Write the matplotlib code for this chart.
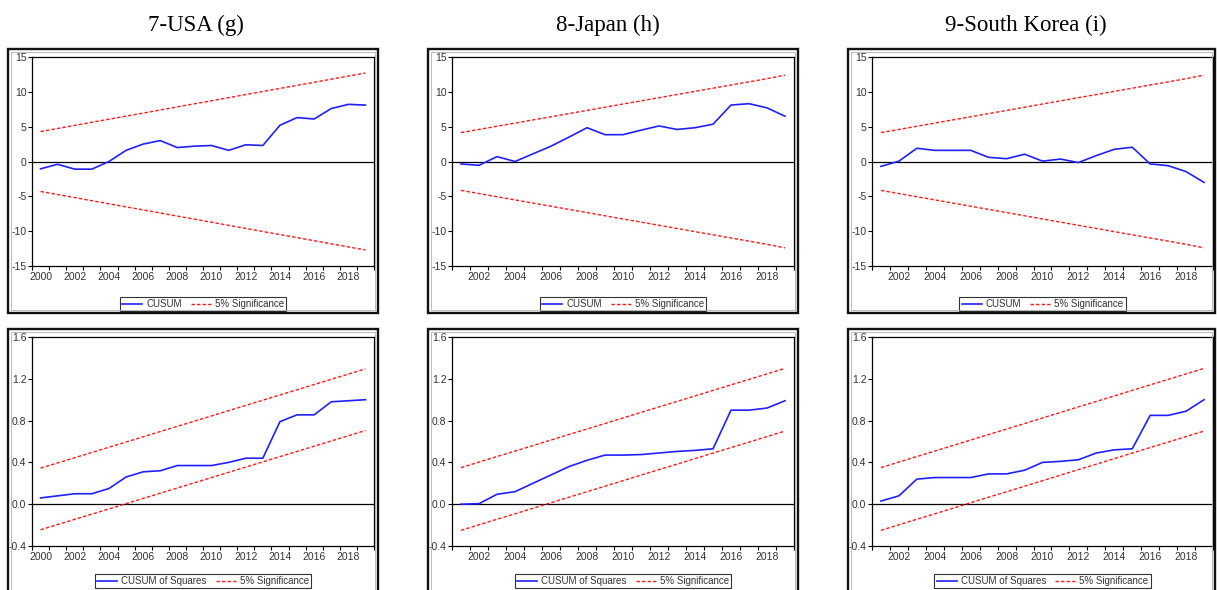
import matplotlib.pyplot as plt
from matplotlib.patches import Rectangle
from matplotlib.lines import Line2D

W, H = 1217, 590

# ---- data ----
years_usa = list(range(2000, 2020))
years_jk = list(range(2001, 2020))

cusum_usa = [-1.05, -0.4, -1.1, -1.1, 0.0, 1.6, 2.5, 3.0, 2.0, 2.2,
             2.3, 1.6, 2.4, 2.3, 5.2, 6.3, 6.1, 7.6, 8.2, 8.1]
cusum_jpn = [-0.35, -0.55, 0.7, 0.0, 1.1, 2.2, 3.5, 4.85, 3.85, 3.85,
             4.5, 5.1, 4.6, 4.85, 5.35, 8.1, 8.3, 7.7, 6.5]
cusum_kor = [-0.7, 0.05, 1.9, 1.6, 1.6, 1.6, 0.6, 0.4, 1.05, 0.05,
             0.35, -0.15, 0.85, 1.75, 2.05, -0.35, -0.6, -1.45, -3.0]

cusum_bound_usa = [4.30, 4.74, 5.18, 5.63, 6.07, 6.51, 6.95, 7.39, 7.84, 8.28,
                   8.72, 9.16, 9.61, 10.05, 10.49, 10.93, 11.37, 11.82, 12.26, 12.70]
cusum_bound_jk = [4.15, 4.60, 5.06, 5.51, 5.97, 6.42, 6.88, 7.33, 7.79, 8.25,
                  8.70, 9.16, 9.61, 10.07, 10.52, 10.98, 11.43, 11.89, 12.40]

cusumsq_usa = [0.06, 0.08, 0.10, 0.10, 0.15, 0.26, 0.31, 0.32, 0.37, 0.37,
               0.37, 0.40, 0.44, 0.44, 0.79, 0.855, 0.855, 0.98, 0.99, 1.0]
cusumsq_jpn = [0.0, 0.005, 0.095, 0.12, 0.20, 0.28, 0.36, 0.42, 0.47, 0.47,
               0.475, 0.49, 0.505, 0.515, 0.53, 0.90, 0.90, 0.92, 0.99]
cusumsq_kor = [0.03, 0.08, 0.24, 0.255, 0.255, 0.255, 0.29, 0.29, 0.325, 0.40,
               0.41, 0.425, 0.49, 0.52, 0.53, 0.85, 0.85, 0.89, 1.0]

sq_upper_usa = [0.345, 0.395, 0.445, 0.495, 0.545, 0.595, 0.645, 0.695, 0.745, 0.795,
                0.845, 0.895, 0.945, 0.995, 1.045, 1.095, 1.145, 1.195, 1.245, 1.295]
sq_lower_usa = [-0.245, -0.195, -0.145, -0.095, -0.045, 0.005, 0.055, 0.105, 0.155, 0.205,
                0.255, 0.305, 0.355, 0.405, 0.455, 0.505, 0.555, 0.605, 0.655, 0.705]
sq_upper_jk = [0.350, 0.403, 0.456, 0.508, 0.561, 0.614, 0.667, 0.719, 0.772, 0.825,
               0.878, 0.931, 0.983, 1.036, 1.089, 1.142, 1.194, 1.247, 1.300]
sq_lower_jk = [-0.250, -0.197, -0.144, -0.092, -0.039, 0.014, 0.067, 0.119, 0.172, 0.225,
               0.278, 0.331, 0.383, 0.436, 0.489, 0.542, 0.594, 0.647, 0.700]

titles = ['7-USA (g)', '8-Japan (h)', '9-South Korea (i)']
title_x = [196, 608, 1026]

# ---- layout (pixels) ----
ax_left = [32, 452, 872]
ax_width = [342, 342, 341]
ax_top = [57, 337]
ax_height = 209
box_x = [(8, 378), (428, 798), (848, 1215)]
box_y = [(49, 313), (329, 600)]
legend_y = [304, 581]

BLUE = '#2020ff'
RED = '#ff1a1a'
DASH = (0, (2.5, 1.5))
plt.rcParams['font.family'] = ['Liberation Sans', 'DejaVu Sans']
plt.rcParams['axes.unicode_minus'] = False

fig = plt.figure(figsize=(W / 100, H / 100), dpi=100)

# outer frames
for (x0, x1) in box_x:
    for (y0, y1) in box_y:
        fig.patches.append(Rectangle((x0 / W, 1 - y1 / H), (x1 - x0) / W, (y1 - y0) / H,
                                     transform=fig.transFigure, fill=False,
                                     edgecolor='#111111', lw=1.7, clip_on=False))
        fig.patches.append(Rectangle(((x0 + 3) / W, 1 - (y1 - 3) / H), (x1 - x0 - 6) / W,
                                     (y1 - y0 - 6) / H, transform=fig.transFigure,
                                     fill=False, edgecolor='#b0b0b0', lw=0.6, clip_on=False))

for c in range(3):
    fig.text(title_x[c] / W, 1 - 25 / H, titles[c], ha='center', va='center',
             fontsize=16.5, family='Liberation Serif')


def make_ax(col, row):
    l = ax_left[col]
    t = ax_top[row]
    ax = fig.add_axes([l / W, 1 - (t + ax_height) / H, ax_width[col] / W, ax_height / H])
    return ax


def style_x(ax, yrs):
    ax.set_xlim(yrs[0] - 0.5, yrs[-1] + 0.5)
    ax.set_xticks([y - 0.5 for y in yrs] + [yrs[-1] + 0.5])
    ax.set_xticklabels([])
    even = [y for y in yrs if y % 2 == 0]
    ax.set_xticks(even, minor=True)
    ax.set_xticklabels([str(y) for y in even], minor=True)
    ax.tick_params(axis='x', which='major', length=3, width=0.8, direction='out')
    ax.tick_params(axis='x', which='minor', length=0, pad=4, labelsize=7.5, labelcolor='#333333')
    ax.tick_params(axis='y', length=3, width=0.8, pad=1, labelsize=7.5, labelcolor='#333333')
    for s in ax.spines.values():
        s.set_linewidth(0.9)


def add_legend(ax, col, row, label):
    h = [Line2D([], [], color=BLUE, lw=1.2),
         Line2D([], [], color=RED, lw=1.0, ls=DASH)]
    cx = (ax_left[col] + ax_width[col] / 2) / W
    leg = ax.legend(h, [label, '5% Significance'], loc='center',
                    bbox_to_anchor=(cx, 1 - legend_y[row] / H), bbox_transform=fig.transFigure,
                    ncol=2, fontsize=7, frameon=True, fancybox=False, edgecolor='black',
                    handlelength=2.1, handletextpad=0.4, columnspacing=0.9,
                    borderpad=0.25, borderaxespad=0)
    leg.get_frame().set_linewidth(0.8)
    for t in leg.get_texts():
        t.set_color('#333333')


top_sets = [(years_usa, cusum_usa, cusum_bound_usa),
            (years_jk, cusum_jpn, cusum_bound_jk),
            (years_jk, cusum_kor, cusum_bound_jk)]
bottom_sets = [(years_usa, cusumsq_usa, sq_upper_usa, sq_lower_usa),
               (years_jk, cusumsq_jpn, sq_upper_jk, sq_lower_jk),
               (years_jk, cusumsq_kor, sq_upper_jk, sq_lower_jk)]

for c in range(3):
    yrs, cs, bd = top_sets[c]
    ax = make_ax(c, 0)
    ax.axhline(0, color='black', lw=0.9)
    ax.plot(yrs, cs, color=BLUE, lw=1.2)
    ax.plot(yrs, bd, color=RED, lw=1.0, ls=DASH)
    ax.plot(yrs, [-v for v in bd], color=RED, lw=1.0, ls=DASH)
    ax.set_ylim(-15, 15)
    ax.set_yticks([-15, -10, -5, 0, 5, 10, 15])
    style_x(ax, yrs)
    add_legend(ax, c, 0, 'CUSUM')

    yrs, cs, up, lo = bottom_sets[c]
    ax = make_ax(c, 1)
    ax.axhline(0, color='black', lw=0.9)
    ax.plot(yrs, cs, color=BLUE, lw=1.2)
    ax.plot(yrs, up, color=RED, lw=1.0, ls=DASH)
    ax.plot(yrs, lo, color=RED, lw=1.0, ls=DASH)
    ax.set_ylim(-0.4, 1.6)
    ax.set_yticks([-0.4, 0.0, 0.4, 0.8, 1.2, 1.6])
    ax.set_yticklabels(['-0.4', '0.0', '0.4', '0.8', '1.2', '1.6'])
    style_x(ax, yrs)
    add_legend(ax, c, 1, 'CUSUM of Squares')

fig.savefig('out.png', dpi=100)
